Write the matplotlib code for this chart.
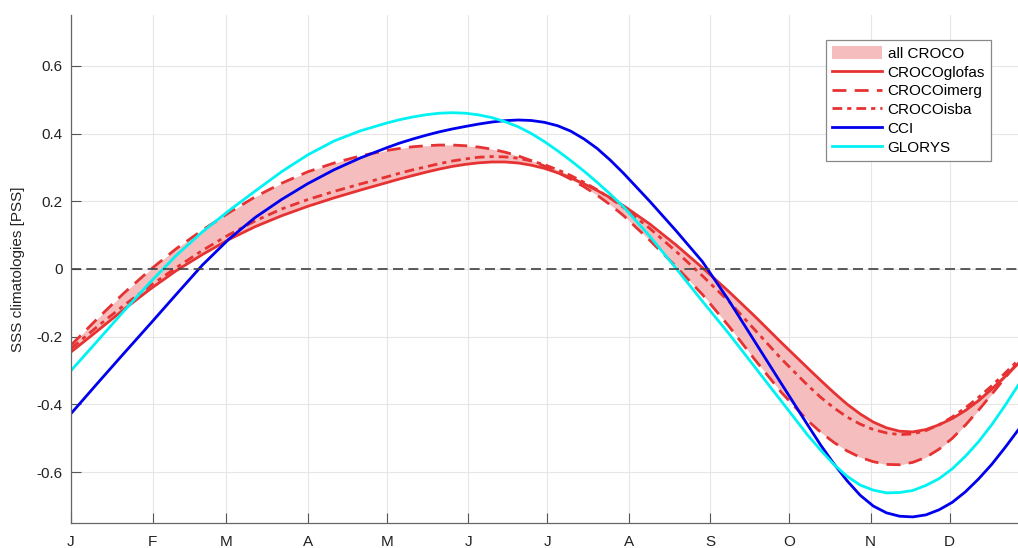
import matplotlib.pyplot as plt
import numpy as np

plt.rcParams['font.family'] = ['Liberation Sans', 'DejaVu Sans']

# day of year (denser where the curves bend)
days = [0, 10, 20, 30, 40, 50, 60, 70, 80, 90, 100, 110, 120, 125, 130, 135, 140, 145, 150, 155,
        160, 165, 170, 175, 180, 185, 190, 195, 200, 205, 210, 220, 230, 240, 250, 260, 270, 280,
        285, 290, 295, 300, 305, 310, 315, 320, 325, 330, 335, 340, 345, 350, 355, 360]

glofas = [-0.245, -0.183, -0.12, -0.06, -0.005, 0.043, 0.087, 0.125, 0.157, 0.185, 0.21, 0.233, 0.255,
          0.266, 0.276, 0.286, 0.295, 0.303, 0.309, 0.3135, 0.316, 0.316, 0.313, 0.3065, 0.297, 0.284,
          0.269, 0.2515, 0.232, 0.2105, 0.187, 0.133, 0.071, 0.004, -0.066, -0.14, -0.217, -0.292,
          -0.329, -0.365, -0.399, -0.428, -0.452, -0.469, -0.479, -0.481, -0.474, -0.46, -0.4415, -0.418,
          -0.389, -0.355, -0.3185, -0.28]
imerg = [-0.225, -0.147, -0.072, -0.003, 0.06, 0.115, 0.166, 0.213, 0.253, 0.287, 0.313, 0.334, 0.35,
         0.356, 0.361, 0.364, 0.366, 0.366, 0.364, 0.36, 0.354, 0.345, 0.334, 0.32, 0.304, 0.2855,
         0.265, 0.243, 0.218, 0.1895, 0.158, 0.085, 0.007, -0.075, -0.168, -0.268, -0.364, -0.447,
         -0.482, -0.512, -0.537, -0.556, -0.569, -0.577, -0.578, -0.571, -0.556, -0.532, -0.5, -0.461,
         -0.417, -0.37, -0.322, -0.275]
isba = [-0.235, -0.17, -0.108, -0.05, 0.004, 0.055, 0.101, 0.142, 0.177, 0.205, 0.229, 0.251, 0.272,
        0.283, 0.293, 0.302, 0.311, 0.319, 0.325, 0.33, 0.332, 0.331, 0.327, 0.319, 0.308, 0.293,
        0.276, 0.256, 0.234, 0.209, 0.182, 0.12, 0.052, -0.02, -0.095, -0.18, -0.265, -0.343,
        -0.379, -0.41, -0.437, -0.458, -0.474, -0.484, -0.489, -0.487, -0.477, -0.46, -0.437, -0.41,
        -0.379, -0.345, -0.308, -0.27]
cci = [-0.427, -0.338, -0.25, -0.163, -0.075, 0.012, 0.088, 0.152, 0.205, 0.252, 0.293, 0.328, 0.358,
       0.372, 0.384, 0.395, 0.405, 0.4135, 0.421, 0.428, 0.434, 0.438, 0.44, 0.4385, 0.433, 0.423,
       0.407, 0.384, 0.356, 0.3215, 0.283, 0.2, 0.113, 0.022, -0.092, -0.215, -0.338, -0.46,
       -0.52, -0.575, -0.625, -0.668, -0.7, -0.72, -0.73, -0.732, -0.726, -0.711, -0.689, -0.658,
       -0.62, -0.577, -0.528, -0.476]
glorys = [-0.3, -0.213, -0.125, -0.04, 0.04, 0.11, 0.172, 0.23, 0.287, 0.337, 0.378, 0.408, 0.431,
          0.441, 0.449, 0.4555, 0.46, 0.4615, 0.46, 0.455, 0.447, 0.435, 0.42, 0.4, 0.376, 0.349,
          0.32, 0.289, 0.256, 0.221, 0.184, 0.097, 0.002, -0.095, -0.19, -0.29, -0.39, -0.49,
          -0.535, -0.577, -0.612, -0.638, -0.653, -0.661, -0.66, -0.654, -0.639, -0.619, -0.59, -0.553,
          -0.51, -0.46, -0.404, -0.344]

month_days = [0, 31, 59, 90, 120, 151, 181, 212, 243, 273, 304, 334]
month_labels = ['J', 'F', 'M', 'A', 'M', 'J', 'J', 'A', 'S', 'O', 'N', 'D']

red = '#e63232'
fig = plt.figure(figsize=(10.18, 5.48), dpi=100)
ax = fig.add_axes([71 / 1018, 25 / 548, 947 / 1018, 508 / 548])

croco = np.array([glofas, imerg, isba])
ax.fill_between(days, croco.min(axis=0), croco.max(axis=0), color='#f5bdbd', lw=0, label='all CROCO')
ax.plot(days, glofas, color=red, lw=2, label='CROCOglofas')
ax.plot(days, imerg, color=red, lw=2, dashes=(5, 3), label='CROCOimerg')
ax.plot(days, isba, color=red, lw=2, dashes=(3.5, 1.8, 1.5, 1.8), label='CROCOisba')
ax.plot(days, cci, color='#0000ee', lw=2, label='CCI')
ax.plot(days, glorys, color='#00f2f2', lw=2, label='GLORYS')
ax.axhline(0, color='#404040', lw=1.2, dashes=(6, 3.2))

ax.set_xlim(0, 360)
ax.set_ylim(-0.75, 0.75)
ax.set_xticks(month_days)
ax.set_xticklabels(month_labels)
ax.set_yticks([-0.6, -0.4, -0.2, 0, 0.2, 0.4, 0.6])
ax.set_yticklabels(['-0.6', '-0.4', '-0.2', '0', '0.2', '0.4', '0.6'])
ax.tick_params(direction='in', length=7, width=0.8, color='#555555', labelsize=11, labelcolor='#222222')
ax.tick_params(axis='x', pad=9)
ax.tick_params(axis='y', pad=6)
ax.grid(True, color='#e6e6e6', lw=0.8)
ax.set_axisbelow(True)
for s in ['top', 'right']:
    ax.spines[s].set_visible(False)
for s in ['left', 'bottom']:
    ax.spines[s].set_color('#666666')
    ax.spines[s].set_linewidth(0.9)
ax.set_ylabel('SSS climatologies [PSS]', fontsize=11, color='#222222', labelpad=8)

leg = ax.legend(loc='upper right', bbox_to_anchor=(0.9715, 0.951), borderaxespad=0, fontsize=11,
                fancybox=False, edgecolor='#888888', framealpha=1, handlelength=3.3, handleheight=0.9,
                labelspacing=0.28, handletextpad=0.35, borderpad=0.4)
leg.get_frame().set_linewidth(0.9)

fig.savefig('out.png', dpi=100)
